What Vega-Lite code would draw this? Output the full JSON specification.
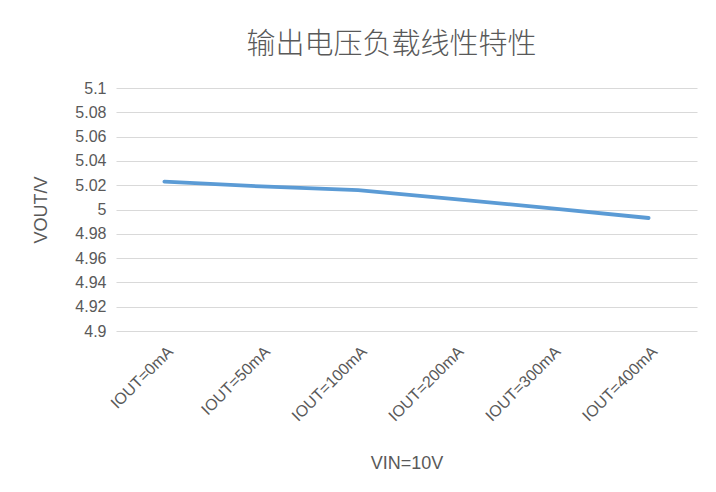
{
  "$schema": "https://vega.github.io/schema/vega-lite/v6.json",
  "width": 581,
  "height": 243,
  "autosize": {"type": "none"},
  "padding": {"left": 116, "top": 88, "right": 19, "bottom": 161},
  "background": "white",
  "title": {
    "text": "输出电压负载线性特性",
    "font": "Noto Sans CJK SC",
    "fontSize": 29,
    "fontWeight": 300,
    "color": "#595959",
    "anchor": "middle",
    "dx": -15,
    "offset": 20
  },
  "data": {
    "values": [
      {"iout": "IOUT=0mA", "vout": 5.023},
      {"iout": "IOUT=50mA", "vout": 5.019},
      {"iout": "IOUT=100mA", "vout": 5.016},
      {"iout": "IOUT=200mA", "vout": 5.0085},
      {"iout": "IOUT=300mA", "vout": 5.001},
      {"iout": "IOUT=400mA", "vout": 4.993}
    ]
  },
  "mark": {"type": "line", "color": "#5B9BD5", "strokeWidth": 3.8, "strokeCap": "round"},
  "encoding": {
    "x": {
      "field": "iout",
      "type": "nominal",
      "sort": null,
      "scale": {"paddingOuter": 0.5},
      "axis": {
        "title": "VIN=10V",
        "labelAngle": -45,
        "labelFont": "Liberation Sans",
        "labelFontSize": 16,
        "labelColor": "#595959",
        "labelPadding": 12,
        "titleFont": "Liberation Sans",
        "titleFontSize": 18,
        "titleFontWeight": "normal",
        "titleColor": "#595959",
        "titlePadding": 31,
        "domain": false,
        "ticks": false,
        "grid": false
      }
    },
    "y": {
      "field": "vout",
      "type": "quantitative",
      "scale": {"domain": [4.9, 5.1], "zero": false, "nice": false},
      "axis": {
        "title": "VOUT/V",
        "values": [4.9, 4.92, 4.94, 4.96, 4.98, 5.0, 5.02, 5.04, 5.06, 5.08, 5.1],
        "format": ".2~f",
        "labelFont": "Liberation Sans",
        "labelFontSize": 16,
        "labelColor": "#595959",
        "labelPadding": 10,
        "titleFont": "Liberation Sans",
        "titleFontSize": 18,
        "titleFontWeight": "normal",
        "titleColor": "#595959",
        "titlePadding": 24,
        "domain": false,
        "ticks": false,
        "grid": true,
        "gridColor": "#d9d9d9",
        "gridWidth": 1.2
      }
    }
  },
  "config": {"view": {"stroke": null}}
}
